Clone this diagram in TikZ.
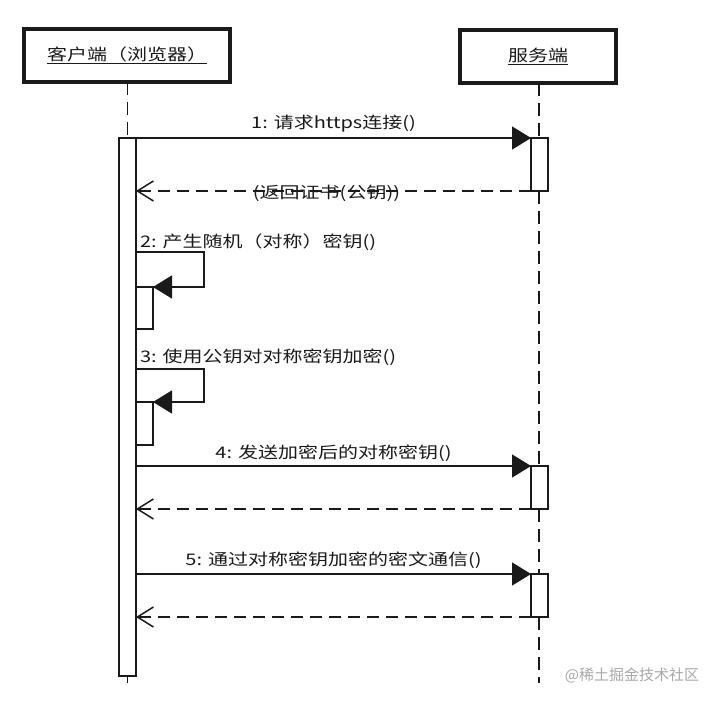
\documentclass[tikz,border=0pt]{standalone}
\usepackage{fontspec}
\usetikzlibrary{arrows.meta}
\newfontfamily\cjkfont[FakeStretch=1.25]{Noto Sans CJK SC}
\newfontfamily\wmfont{Noto Sans CJK SC}
\definecolor{ink}{HTML}{1A1A1A}
\definecolor{wmgray}{HTML}{A8A8A8}
\begin{document}
\begin{tikzpicture}[x=1pt,y=-1pt,
  every node/.style={inner sep=0pt, outer sep=0pt},
  actor/.style={draw=ink, line width=3.2pt, fill=white, minimum height=53pt,
    font=\cjkfont\fontsize{16}{18}\selectfont, text=ink},
  lifeline/.style={draw=ink, line width=1.5pt, dash pattern=on 13pt off 7pt},
  actbar/.style={draw=ink, line width=1.5pt, fill=white, minimum width=17pt},
  msg/.style={draw=ink, line width=1.5pt, -{Triangle[length=19pt,width=23pt]}},
  ret/.style={draw=ink, line width=1.5pt, dash pattern=on 12pt off 7pt,
    -{Straight Barb[length=16pt,width=20pt]}},
  lbl/.style={font=\cjkfont\fontsize{16}{18}\selectfont, text=ink},
  wmark/.style={font=\wmfont\fontsize{15}{15}\selectfont, text=wmgray}]
\useasboundingbox (0,0) rectangle (720,703);
\fill[white] (0,0) rectangle (720,703);

% actors
\node[actor, minimum width=206pt] (client) at (127,55.5) {\underline{客户端（浏览器）}};
\node[actor, minimum width=156pt] (server) at (538,56.5) {\underline{服务端}};

% activation bars
\node[actbar, minimum height=538pt] (cbar) at (127.5,407) {};
\node[actbar, minimum height=53pt] (a1) at (539.5,164.5) {};
\node[actbar, minimum height=43pt] (a4) at (539.5,487.5) {};
\node[actbar, minimum height=43pt] (a5) at (539.5,595.5) {};
\node[actbar, minimum height=42pt] (n2) at (144.5,308) {};
\node[actbar, minimum height=43pt] (n3) at (144.5,423.5) {};

% lifelines
\coordinate (cend) at (127.5,683);
\coordinate (send) at (539,683);
\draw[lifeline] (cbar.north |- client.south) -- (cbar.north);
\draw[draw=ink, line width=1.5pt] (cbar.south) -- (cend);
\draw[lifeline] (send |- server.south) -- (send |- a1.north);
\draw[lifeline] (send |- a1.south) -- (send |- a4.north);
\draw[lifeline] (send |- a4.south) -- (send |- a5.north);
\draw[lifeline] (send |- a5.south) -- (send);

% message 1 and return
\draw[msg] (cbar.east |- a1.north west) -- (a1.north west)
  node[lbl, midway, yshift=14pt] {1: 请求https连接()};
\draw[ret] (a1.south west) -- (cbar.east |- a1.south west)
  node[lbl, midway, xshift=-7pt, yshift=-2pt] {(返回证书(公钥))};

% self message 2
\coordinate (c2) at (204,252);
\draw[msg] (cbar.east |- c2) -- (c2) |- (n2.north east);
\node[lbl, anchor=west] (l2) at (140,242) {2: 产生随机（对称）密钥()};

% self message 3
\coordinate (c3) at (204,369);
\draw[msg] (cbar.east |- c3) -- (c3) |- (n3.north east);
\node[lbl, anchor=west] (l3) at (140,357) {3: 使用公钥对对称密钥加密()};

% message 4 and return
\draw[msg] (cbar.east |- a4.north west) -- (a4.north west)
  node[lbl, midway, yshift=13pt] {4: 发送加密后的对称密钥()};
\draw[ret] (a4.south west) -- (cbar.east |- a4.south west);

% message 5 and return
\draw[msg] (cbar.east |- a5.north west) -- (a5.north west)
  node[lbl, midway, yshift=14pt] {5: 通过对称密钥加密的密文通信()};
\draw[ret] (a5.south west) -- (cbar.east |- a5.south west);

% watermark
\node[wmark] (wm) at (632,675) {@稀土掘金技术社区};
\end{tikzpicture}
\end{document}
